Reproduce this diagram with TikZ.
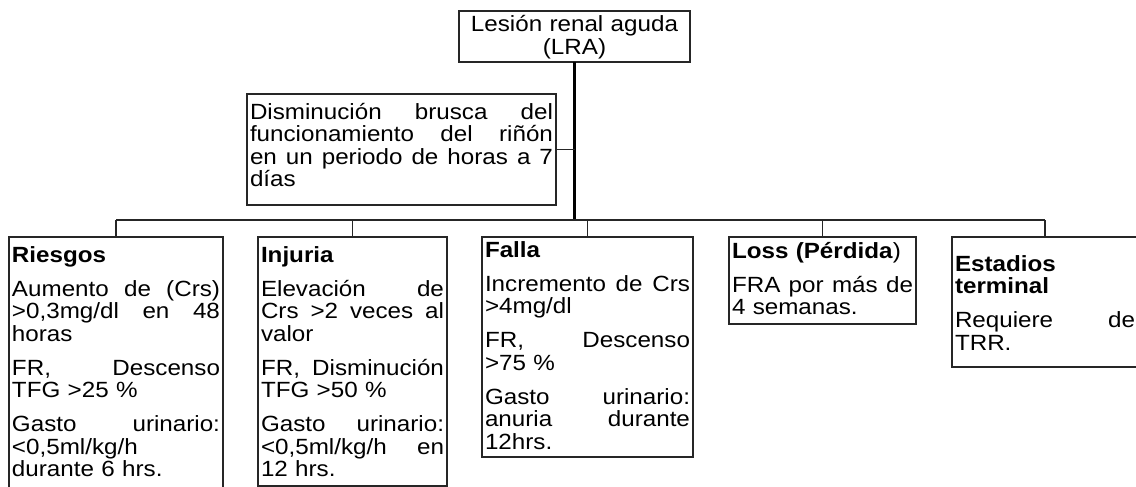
\documentclass[tikz,border=0pt]{standalone}
\usepackage{fontspec}
\setmainfont{Liberation Sans}[FakeStretch=1.1]
\begin{document}
\begin{tikzpicture}[x=1pt,y=-1pt,
  box/.style={font=\fontsize{22}{22.5}\selectfont,draw=black!85,line width=1.3pt,
    inner xsep=3pt,inner ysep=0pt,outer sep=0pt,anchor=north west,align=left},
  trunkline/.style={line width=3.5pt,draw=black},
  barline/.style={line width=2pt,draw=black!85},
  dropline/.style={line width=1.5pt,draw=black!85},
  thinline/.style={line width=1.3pt,draw=black!85}]
\useasboundingbox (0,0) rectangle (1136,487);
\fill[white] (0,0) rectangle (1136,487);
\clip (0,0) rectangle (1136,487);
\def\pg{11.5pt}
% top
\node[box,align=center,text width=225pt,text height=21pt,text depth=30pt] (top) at (459,11)
  {Lesión renal aguda\\(LRA)};
% description
\node[box,text width=303pt,text height=25pt,text depth=86pt] (desc) at (247,94)
  {Disminución \hfill brusca \hfill del\\
   funcionamiento \hfill del \hfill riñón\\
   en \hfill un \hfill periodo \hfill de \hfill horas \hfill a \hfill 7\\
   días};
% categories
\node[box,text width=208pt,text height=25pt,text depth=238pt] (ries) at (9,237)
  {\textbf{Riesgos}\\[\pg]
   Aumento \hfill de \hfill (Crs)\\
   >0,3mg/dl \hfill en \hfill 48\\
   horas\\[\pg]
   FR, \hfill Descenso\\
   TFG >25 \%\\[\pg]
   Gasto \hfill urinario:\\
   <0,5ml/kg/h\\
   durante 6 hrs.};
\node[box,text width=183pt,text height=25pt,text depth=224pt] (inj) at (258,237)
  {\textbf{Injuria}\\[\pg]
   Elevación \hfill de\\
   Crs \hfill >2 \hfill veces \hfill al\\
   valor\\[\pg]
   FR, \hfill Disminución\\
   TFG >50 \%\\[\pg]
   Gasto \hfill urinario:\\
   <0,5ml/kg/h \hfill en\\
   12 hrs.};
\node[box,text width=205pt,text height=20pt,text depth=200pt] (fal) at (482,237)
  {\textbf{Falla}\\[\pg]
   Incremento \hfill de \hfill Crs\\
   >4mg/dl\\[\pg]
   FR, \hfill Descenso\\
   >75 \%\\[\pg]
   Gasto \hfill urinario:\\
   anuria \hfill durante\\
   12hrs.};
\node[box,text width=181pt,text height=21pt,text depth=66pt] (loss) at (729,237)
  {\textbf{Loss (Pérdida})\\[\pg]
   FRA \hfill por \hfill más \hfill de\\
   4 semanas.};
\node[box,text width=180pt,text height=34pt,text depth=96pt] (est) at (952,237)
  {\textbf{Estadios}\\
   \textbf{terminal}\\[\pg]
   Requiere \hfill de\\
   TRR.};
% connectors
\coordinate (junc) at (574.5,220);
\draw[trunkline] (top.south) -- (top.south |- junc);
\draw[thinline] (desc.east) -- (desc.east -| top.south);
\draw[barline] (ries.north |- junc) -- (est.north |- junc);
\foreach \n in {ries,inj,fal,loss,est}
  \draw[dropline] (\n.north |- junc) -- (\n.north);
\end{tikzpicture}
\end{document}
